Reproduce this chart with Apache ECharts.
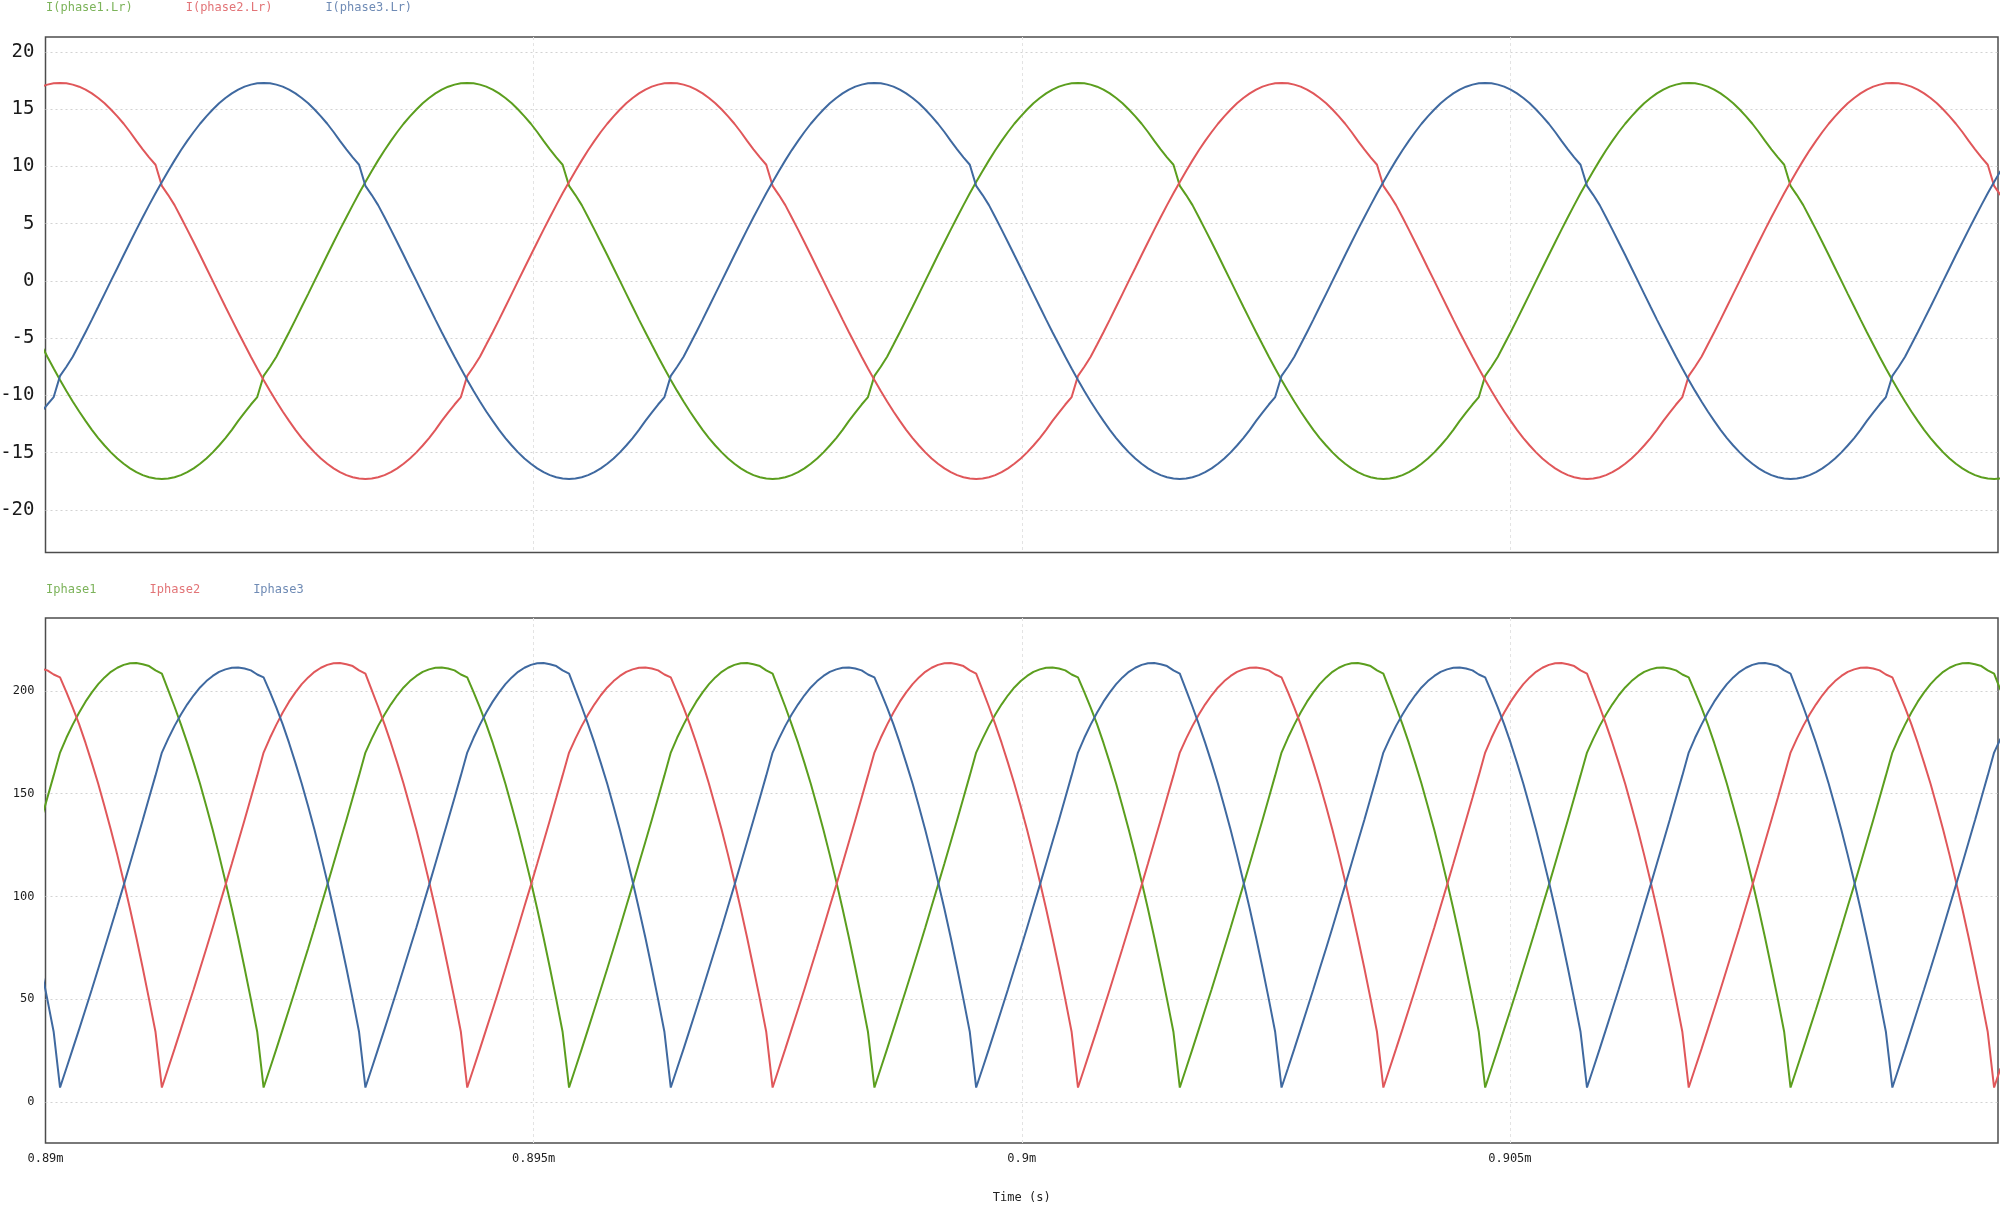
<!DOCTYPE html>
<html><head><meta charset="utf-8">
<script src="https://cdn.jsdelivr.net/npm/echarts@6/dist/echarts.min.js"></script>
<style>html,body{margin:0;padding:0;background:#fff}#c{width:2000px;height:1206px}</style>
</head><body><div id="c"></div>
<script>
// time in microseconds (axis shows milliseconds with "m")
const timeUs = [
889.954, 890.019, 890.084,
890.149, 890.214, 890.279, 890.345, 890.410, 890.475, 890.540, 890.605, 890.670, 890.736, 890.801, 890.866, 890.931, 890.996, 891.061, 891.127,
891.192, 891.257, 891.322, 891.387, 891.452, 891.518, 891.583, 891.648, 891.713, 891.778, 891.843, 891.909, 891.974, 892.039, 892.104, 892.169,
892.234, 892.300, 892.365, 892.430, 892.495, 892.560, 892.625, 892.691, 892.756, 892.821, 892.886, 892.951, 893.016, 893.082, 893.147, 893.212,
893.277, 893.342, 893.407, 893.473, 893.538, 893.603, 893.668, 893.733, 893.799, 893.864, 893.929, 893.994, 894.059, 894.124, 894.190, 894.255,
894.320, 894.385, 894.450, 894.515, 894.581, 894.646, 894.711, 894.776, 894.841, 894.906, 894.972, 895.037, 895.102, 895.167, 895.232, 895.297,
895.363, 895.428, 895.493, 895.558, 895.623, 895.688, 895.754, 895.819, 895.884, 895.949, 896.014, 896.079, 896.145, 896.210, 896.275, 896.340,
896.405, 896.470, 896.536, 896.601, 896.666, 896.731, 896.796, 896.861, 896.927, 896.992, 897.057, 897.122, 897.187, 897.252, 897.318, 897.383,
897.448, 897.513, 897.578, 897.643, 897.709, 897.774, 897.839, 897.904, 897.969, 898.034, 898.100, 898.165, 898.230, 898.295, 898.360, 898.425,
898.491, 898.556, 898.621, 898.686, 898.751, 898.816, 898.882, 898.947, 899.012, 899.077, 899.142, 899.208, 899.273, 899.338, 899.403, 899.468,
899.533, 899.599, 899.664, 899.729, 899.794, 899.859, 899.924, 899.990, 900.055, 900.120, 900.185, 900.250, 900.315, 900.381, 900.446, 900.511,
900.576, 900.641, 900.706, 900.772, 900.837, 900.902, 900.967, 901.032, 901.097, 901.163, 901.228, 901.293, 901.358, 901.423, 901.488, 901.554,
901.619, 901.684, 901.749, 901.814, 901.879, 901.945, 902.010, 902.075, 902.140, 902.205, 902.270, 902.336, 902.401, 902.466, 902.531, 902.596,
902.661, 902.727, 902.792, 902.857, 902.922, 902.987, 903.052, 903.118, 903.183, 903.248, 903.313, 903.378, 903.443, 903.509, 903.574, 903.639,
903.704, 903.769, 903.834, 903.900, 903.965, 904.030, 904.095, 904.160, 904.226, 904.291, 904.356, 904.421, 904.486, 904.551, 904.617, 904.682,
904.747, 904.812, 904.877, 904.942, 905.008, 905.073, 905.138, 905.203, 905.268, 905.333, 905.399, 905.464, 905.529, 905.594, 905.659, 905.724,
905.790, 905.855, 905.920, 905.985, 906.050, 906.115, 906.181, 906.246, 906.311, 906.376, 906.441, 906.506, 906.572, 906.637, 906.702, 906.767,
906.832, 906.897, 906.963, 907.028, 907.093, 907.158, 907.223, 907.288, 907.354, 907.419, 907.484, 907.549, 907.614, 907.679, 907.745, 907.810,
907.875, 907.940, 908.005, 908.070, 908.136, 908.201, 908.266, 908.331, 908.396, 908.461, 908.527, 908.592, 908.657, 908.722, 908.787, 908.852,
908.918, 908.983, 909.048, 909.113, 909.178, 909.243, 909.309, 909.374, 909.439, 909.504, 909.569, 909.635, 909.700, 909.765, 909.830, 909.895,
909.960, 910.026
];

const topNames = ['I(phase1.Lr)', 'I(phase2.Lr)', 'I(phase3.Lr)'];
const botNames = ['Iphase1', 'Iphase2', 'Iphase3'];
const topYTicks = [-20, -15, -10, -5, 0, 5, 10, 15, 20];
const botYTicks = [0, 50, 100, 150, 200];
const xTicks = [890, 895, 900, 905];

// I(phase1.Lr) - green
const iPhase1Lr = [
-5.56, -6.62, -7.65,
-8.65, -9.61, -10.53, -11.41, -12.23, -13.01, -13.73, -14.38, -14.98, -15.52, -15.98, -16.38, -16.71, -16.97, -17.15, -17.26,
-17.3, -17.26, -17.15, -16.97, -16.71, -16.38, -15.98, -15.52, -14.98, -14.38, -13.73, -13.01, -12.23, -11.5, -10.8, -10.15,
-8.3, -7.5, -6.62, -5.56, -4.48, -3.38, -2.26, -1.13, 0, 1.13, 2.26, 3.38, 4.48, 5.56, 6.62, 7.65,
8.65, 9.61, 10.53, 11.41, 12.23, 13.01, 13.73, 14.38, 14.98, 15.52, 15.98, 16.38, 16.71, 16.97, 17.15, 17.26,
17.3, 17.26, 17.15, 16.97, 16.71, 16.38, 15.98, 15.52, 14.98, 14.38, 13.73, 13.01, 12.23, 11.5, 10.8, 10.15,
8.3, 7.5, 6.62, 5.56, 4.48, 3.38, 2.26, 1.13, 0, -1.13, -2.26, -3.38, -4.48, -5.56, -6.62, -7.65,
-8.65, -9.61, -10.53, -11.41, -12.23, -13.01, -13.73, -14.38, -14.98, -15.52, -15.98, -16.38, -16.71, -16.97, -17.15, -17.26,
-17.3, -17.26, -17.15, -16.97, -16.71, -16.38, -15.98, -15.52, -14.98, -14.38, -13.73, -13.01, -12.23, -11.5, -10.8, -10.15,
-8.3, -7.5, -6.62, -5.56, -4.48, -3.38, -2.26, -1.13, 0, 1.13, 2.26, 3.38, 4.48, 5.56, 6.62, 7.65,
8.65, 9.61, 10.53, 11.41, 12.23, 13.01, 13.73, 14.38, 14.98, 15.52, 15.98, 16.38, 16.71, 16.97, 17.15, 17.26,
17.3, 17.26, 17.15, 16.97, 16.71, 16.38, 15.98, 15.52, 14.98, 14.38, 13.73, 13.01, 12.23, 11.5, 10.8, 10.15,
8.3, 7.5, 6.62, 5.56, 4.48, 3.38, 2.26, 1.13, 0, -1.13, -2.26, -3.38, -4.48, -5.56, -6.62, -7.65,
-8.65, -9.61, -10.53, -11.41, -12.23, -13.01, -13.73, -14.38, -14.98, -15.52, -15.98, -16.38, -16.71, -16.97, -17.15, -17.26,
-17.3, -17.26, -17.15, -16.97, -16.71, -16.38, -15.98, -15.52, -14.98, -14.38, -13.73, -13.01, -12.23, -11.5, -10.8, -10.15,
-8.3, -7.5, -6.62, -5.56, -4.48, -3.38, -2.26, -1.13, 0, 1.13, 2.26, 3.38, 4.48, 5.56, 6.62, 7.65,
8.65, 9.61, 10.53, 11.41, 12.23, 13.01, 13.73, 14.38, 14.98, 15.52, 15.98, 16.38, 16.71, 16.97, 17.15, 17.26,
17.3, 17.26, 17.15, 16.97, 16.71, 16.38, 15.98, 15.52, 14.98, 14.38, 13.73, 13.01, 12.23, 11.5, 10.8, 10.15,
8.3, 7.5, 6.62, 5.56, 4.48, 3.38, 2.26, 1.13, 0, -1.13, -2.26, -3.38, -4.48, -5.56, -6.62, -7.65,
-8.65, -9.61, -10.53, -11.41, -12.23, -13.01, -13.73, -14.38, -14.98, -15.52, -15.98, -16.38, -16.71, -16.97, -17.15, -17.26,
-17.3, -17.26
];

// I(phase2.Lr) - red
const iPhase2Lr = [
16.97, 17.15, 17.26,
17.3, 17.26, 17.15, 16.97, 16.71, 16.38, 15.98, 15.52, 14.98, 14.38, 13.73, 13.01, 12.23, 11.5, 10.8, 10.15,
8.3, 7.5, 6.62, 5.56, 4.48, 3.38, 2.26, 1.13, 0, -1.13, -2.26, -3.38, -4.48, -5.56, -6.62, -7.65,
-8.65, -9.61, -10.53, -11.41, -12.23, -13.01, -13.73, -14.38, -14.98, -15.52, -15.98, -16.38, -16.71, -16.97, -17.15, -17.26,
-17.3, -17.26, -17.15, -16.97, -16.71, -16.38, -15.98, -15.52, -14.98, -14.38, -13.73, -13.01, -12.23, -11.5, -10.8, -10.15,
-8.3, -7.5, -6.62, -5.56, -4.48, -3.38, -2.26, -1.13, 0, 1.13, 2.26, 3.38, 4.48, 5.56, 6.62, 7.65,
8.65, 9.61, 10.53, 11.41, 12.23, 13.01, 13.73, 14.38, 14.98, 15.52, 15.98, 16.38, 16.71, 16.97, 17.15, 17.26,
17.3, 17.26, 17.15, 16.97, 16.71, 16.38, 15.98, 15.52, 14.98, 14.38, 13.73, 13.01, 12.23, 11.5, 10.8, 10.15,
8.3, 7.5, 6.62, 5.56, 4.48, 3.38, 2.26, 1.13, 0, -1.13, -2.26, -3.38, -4.48, -5.56, -6.62, -7.65,
-8.65, -9.61, -10.53, -11.41, -12.23, -13.01, -13.73, -14.38, -14.98, -15.52, -15.98, -16.38, -16.71, -16.97, -17.15, -17.26,
-17.3, -17.26, -17.15, -16.97, -16.71, -16.38, -15.98, -15.52, -14.98, -14.38, -13.73, -13.01, -12.23, -11.5, -10.8, -10.15,
-8.3, -7.5, -6.62, -5.56, -4.48, -3.38, -2.26, -1.13, 0, 1.13, 2.26, 3.38, 4.48, 5.56, 6.62, 7.65,
8.65, 9.61, 10.53, 11.41, 12.23, 13.01, 13.73, 14.38, 14.98, 15.52, 15.98, 16.38, 16.71, 16.97, 17.15, 17.26,
17.3, 17.26, 17.15, 16.97, 16.71, 16.38, 15.98, 15.52, 14.98, 14.38, 13.73, 13.01, 12.23, 11.5, 10.8, 10.15,
8.3, 7.5, 6.62, 5.56, 4.48, 3.38, 2.26, 1.13, 0, -1.13, -2.26, -3.38, -4.48, -5.56, -6.62, -7.65,
-8.65, -9.61, -10.53, -11.41, -12.23, -13.01, -13.73, -14.38, -14.98, -15.52, -15.98, -16.38, -16.71, -16.97, -17.15, -17.26,
-17.3, -17.26, -17.15, -16.97, -16.71, -16.38, -15.98, -15.52, -14.98, -14.38, -13.73, -13.01, -12.23, -11.5, -10.8, -10.15,
-8.3, -7.5, -6.62, -5.56, -4.48, -3.38, -2.26, -1.13, 0, 1.13, 2.26, 3.38, 4.48, 5.56, 6.62, 7.65,
8.65, 9.61, 10.53, 11.41, 12.23, 13.01, 13.73, 14.38, 14.98, 15.52, 15.98, 16.38, 16.71, 16.97, 17.15, 17.26,
17.3, 17.26, 17.15, 16.97, 16.71, 16.38, 15.98, 15.52, 14.98, 14.38, 13.73, 13.01, 12.23, 11.5, 10.8, 10.15,
8.3, 7.5
];

// I(phase3.Lr) - blue
const iPhase3Lr = [
-11.5, -10.8, -10.15,
-8.3, -7.5, -6.62, -5.56, -4.48, -3.38, -2.26, -1.13, 0, 1.13, 2.26, 3.38, 4.48, 5.56, 6.62, 7.65,
8.65, 9.61, 10.53, 11.41, 12.23, 13.01, 13.73, 14.38, 14.98, 15.52, 15.98, 16.38, 16.71, 16.97, 17.15, 17.26,
17.3, 17.26, 17.15, 16.97, 16.71, 16.38, 15.98, 15.52, 14.98, 14.38, 13.73, 13.01, 12.23, 11.5, 10.8, 10.15,
8.3, 7.5, 6.62, 5.56, 4.48, 3.38, 2.26, 1.13, 0, -1.13, -2.26, -3.38, -4.48, -5.56, -6.62, -7.65,
-8.65, -9.61, -10.53, -11.41, -12.23, -13.01, -13.73, -14.38, -14.98, -15.52, -15.98, -16.38, -16.71, -16.97, -17.15, -17.26,
-17.3, -17.26, -17.15, -16.97, -16.71, -16.38, -15.98, -15.52, -14.98, -14.38, -13.73, -13.01, -12.23, -11.5, -10.8, -10.15,
-8.3, -7.5, -6.62, -5.56, -4.48, -3.38, -2.26, -1.13, 0, 1.13, 2.26, 3.38, 4.48, 5.56, 6.62, 7.65,
8.65, 9.61, 10.53, 11.41, 12.23, 13.01, 13.73, 14.38, 14.98, 15.52, 15.98, 16.38, 16.71, 16.97, 17.15, 17.26,
17.3, 17.26, 17.15, 16.97, 16.71, 16.38, 15.98, 15.52, 14.98, 14.38, 13.73, 13.01, 12.23, 11.5, 10.8, 10.15,
8.3, 7.5, 6.62, 5.56, 4.48, 3.38, 2.26, 1.13, 0, -1.13, -2.26, -3.38, -4.48, -5.56, -6.62, -7.65,
-8.65, -9.61, -10.53, -11.41, -12.23, -13.01, -13.73, -14.38, -14.98, -15.52, -15.98, -16.38, -16.71, -16.97, -17.15, -17.26,
-17.3, -17.26, -17.15, -16.97, -16.71, -16.38, -15.98, -15.52, -14.98, -14.38, -13.73, -13.01, -12.23, -11.5, -10.8, -10.15,
-8.3, -7.5, -6.62, -5.56, -4.48, -3.38, -2.26, -1.13, 0, 1.13, 2.26, 3.38, 4.48, 5.56, 6.62, 7.65,
8.65, 9.61, 10.53, 11.41, 12.23, 13.01, 13.73, 14.38, 14.98, 15.52, 15.98, 16.38, 16.71, 16.97, 17.15, 17.26,
17.3, 17.26, 17.15, 16.97, 16.71, 16.38, 15.98, 15.52, 14.98, 14.38, 13.73, 13.01, 12.23, 11.5, 10.8, 10.15,
8.3, 7.5, 6.62, 5.56, 4.48, 3.38, 2.26, 1.13, 0, -1.13, -2.26, -3.38, -4.48, -5.56, -6.62, -7.65,
-8.65, -9.61, -10.53, -11.41, -12.23, -13.01, -13.73, -14.38, -14.98, -15.52, -15.98, -16.38, -16.71, -16.97, -17.15, -17.26,
-17.3, -17.26, -17.15, -16.97, -16.71, -16.38, -15.98, -15.52, -14.98, -14.38, -13.73, -13.01, -12.23, -11.5, -10.8, -10.15,
-8.3, -7.5, -6.62, -5.56, -4.48, -3.38, -2.26, -1.13, 0, 1.13, 2.26, 3.38, 4.48, 5.56, 6.62, 7.65,
8.65, 9.61
];

// Iphase1 - green
const iPhase1 = [
137.2, 148, 158.9,
170, 177.2, 183.6, 189.5, 194.8, 199.3, 203.3, 206.6, 209.3, 211.3, 212.7, 213.5, 213.6, 213, 212.1, 210,
208.4, 200.4, 192.3, 183.7, 174.7, 165, 154.8, 143.8, 132.3, 120.1, 107.3, 93.9, 79.9, 65.2, 49.9, 34,
7, 16.4, 25.8, 35.4, 45.1, 54.8, 64.8, 74.8, 84.9, 95.2, 105.5, 116, 126.6, 137.2, 148, 158.9,
170, 176.8, 183, 188.5, 193.5, 197.9, 201.7, 204.8, 207.3, 209.3, 210.5, 211.3, 211.4, 210.9, 210, 208,
206.6, 199.4, 191.9, 183.7, 174.7, 165, 154.8, 143.8, 132.3, 120.1, 107.3, 93.9, 79.9, 65.2, 49.9, 34,
7, 16.4, 25.8, 35.4, 45.1, 54.8, 64.8, 74.8, 84.9, 95.2, 105.5, 116, 126.6, 137.2, 148, 158.9,
170, 177.2, 183.6, 189.5, 194.8, 199.3, 203.3, 206.6, 209.3, 211.3, 212.7, 213.5, 213.6, 213, 212.1, 210,
208.4, 200.4, 192.3, 183.7, 174.7, 165, 154.8, 143.8, 132.3, 120.1, 107.3, 93.9, 79.9, 65.2, 49.9, 34,
7, 16.4, 25.8, 35.4, 45.1, 54.8, 64.8, 74.8, 84.9, 95.2, 105.5, 116, 126.6, 137.2, 148, 158.9,
170, 176.8, 183, 188.5, 193.5, 197.9, 201.7, 204.8, 207.3, 209.3, 210.5, 211.3, 211.4, 210.9, 210, 208,
206.6, 199.4, 191.9, 183.7, 174.7, 165, 154.8, 143.8, 132.3, 120.1, 107.3, 93.9, 79.9, 65.2, 49.9, 34,
7, 16.4, 25.8, 35.4, 45.1, 54.8, 64.8, 74.8, 84.9, 95.2, 105.5, 116, 126.6, 137.2, 148, 158.9,
170, 177.2, 183.6, 189.5, 194.8, 199.3, 203.3, 206.6, 209.3, 211.3, 212.7, 213.5, 213.6, 213, 212.1, 210,
208.4, 200.4, 192.3, 183.7, 174.7, 165, 154.8, 143.8, 132.3, 120.1, 107.3, 93.9, 79.9, 65.2, 49.9, 34,
7, 16.4, 25.8, 35.4, 45.1, 54.8, 64.8, 74.8, 84.9, 95.2, 105.5, 116, 126.6, 137.2, 148, 158.9,
170, 176.8, 183, 188.5, 193.5, 197.9, 201.7, 204.8, 207.3, 209.3, 210.5, 211.3, 211.4, 210.9, 210, 208,
206.6, 199.4, 191.9, 183.7, 174.7, 165, 154.8, 143.8, 132.3, 120.1, 107.3, 93.9, 79.9, 65.2, 49.9, 34,
7, 16.4, 25.8, 35.4, 45.1, 54.8, 64.8, 74.8, 84.9, 95.2, 105.5, 116, 126.6, 137.2, 148, 158.9,
170, 177.2, 183.6, 189.5, 194.8, 199.3, 203.3, 206.6, 209.3, 211.3, 212.7, 213.5, 213.6, 213, 212.1, 210,
208.4, 200.4
];

// Iphase2 - red
const iPhase2 = [
210.9, 210, 208,
206.6, 199.4, 191.9, 183.7, 174.7, 165, 154.8, 143.8, 132.3, 120.1, 107.3, 93.9, 79.9, 65.2, 49.9, 34,
7, 16.4, 25.8, 35.4, 45.1, 54.8, 64.8, 74.8, 84.9, 95.2, 105.5, 116, 126.6, 137.2, 148, 158.9,
170, 177.2, 183.6, 189.5, 194.8, 199.3, 203.3, 206.6, 209.3, 211.3, 212.7, 213.5, 213.6, 213, 212.1, 210,
208.4, 200.4, 192.3, 183.7, 174.7, 165, 154.8, 143.8, 132.3, 120.1, 107.3, 93.9, 79.9, 65.2, 49.9, 34,
7, 16.4, 25.8, 35.4, 45.1, 54.8, 64.8, 74.8, 84.9, 95.2, 105.5, 116, 126.6, 137.2, 148, 158.9,
170, 176.8, 183, 188.5, 193.5, 197.9, 201.7, 204.8, 207.3, 209.3, 210.5, 211.3, 211.4, 210.9, 210, 208,
206.6, 199.4, 191.9, 183.7, 174.7, 165, 154.8, 143.8, 132.3, 120.1, 107.3, 93.9, 79.9, 65.2, 49.9, 34,
7, 16.4, 25.8, 35.4, 45.1, 54.8, 64.8, 74.8, 84.9, 95.2, 105.5, 116, 126.6, 137.2, 148, 158.9,
170, 177.2, 183.6, 189.5, 194.8, 199.3, 203.3, 206.6, 209.3, 211.3, 212.7, 213.5, 213.6, 213, 212.1, 210,
208.4, 200.4, 192.3, 183.7, 174.7, 165, 154.8, 143.8, 132.3, 120.1, 107.3, 93.9, 79.9, 65.2, 49.9, 34,
7, 16.4, 25.8, 35.4, 45.1, 54.8, 64.8, 74.8, 84.9, 95.2, 105.5, 116, 126.6, 137.2, 148, 158.9,
170, 176.8, 183, 188.5, 193.5, 197.9, 201.7, 204.8, 207.3, 209.3, 210.5, 211.3, 211.4, 210.9, 210, 208,
206.6, 199.4, 191.9, 183.7, 174.7, 165, 154.8, 143.8, 132.3, 120.1, 107.3, 93.9, 79.9, 65.2, 49.9, 34,
7, 16.4, 25.8, 35.4, 45.1, 54.8, 64.8, 74.8, 84.9, 95.2, 105.5, 116, 126.6, 137.2, 148, 158.9,
170, 177.2, 183.6, 189.5, 194.8, 199.3, 203.3, 206.6, 209.3, 211.3, 212.7, 213.5, 213.6, 213, 212.1, 210,
208.4, 200.4, 192.3, 183.7, 174.7, 165, 154.8, 143.8, 132.3, 120.1, 107.3, 93.9, 79.9, 65.2, 49.9, 34,
7, 16.4, 25.8, 35.4, 45.1, 54.8, 64.8, 74.8, 84.9, 95.2, 105.5, 116, 126.6, 137.2, 148, 158.9,
170, 176.8, 183, 188.5, 193.5, 197.9, 201.7, 204.8, 207.3, 209.3, 210.5, 211.3, 211.4, 210.9, 210, 208,
206.6, 199.4, 191.9, 183.7, 174.7, 165, 154.8, 143.8, 132.3, 120.1, 107.3, 93.9, 79.9, 65.2, 49.9, 34,
7, 16.4
];

// Iphase3 - blue
const iPhase3 = [
65.2, 49.9, 34,
7, 16.4, 25.8, 35.4, 45.1, 54.8, 64.8, 74.8, 84.9, 95.2, 105.5, 116, 126.6, 137.2, 148, 158.9,
170, 176.8, 183, 188.5, 193.5, 197.9, 201.7, 204.8, 207.3, 209.3, 210.5, 211.3, 211.4, 210.9, 210, 208,
206.6, 199.4, 191.9, 183.7, 174.7, 165, 154.8, 143.8, 132.3, 120.1, 107.3, 93.9, 79.9, 65.2, 49.9, 34,
7, 16.4, 25.8, 35.4, 45.1, 54.8, 64.8, 74.8, 84.9, 95.2, 105.5, 116, 126.6, 137.2, 148, 158.9,
170, 177.2, 183.6, 189.5, 194.8, 199.3, 203.3, 206.6, 209.3, 211.3, 212.7, 213.5, 213.6, 213, 212.1, 210,
208.4, 200.4, 192.3, 183.7, 174.7, 165, 154.8, 143.8, 132.3, 120.1, 107.3, 93.9, 79.9, 65.2, 49.9, 34,
7, 16.4, 25.8, 35.4, 45.1, 54.8, 64.8, 74.8, 84.9, 95.2, 105.5, 116, 126.6, 137.2, 148, 158.9,
170, 176.8, 183, 188.5, 193.5, 197.9, 201.7, 204.8, 207.3, 209.3, 210.5, 211.3, 211.4, 210.9, 210, 208,
206.6, 199.4, 191.9, 183.7, 174.7, 165, 154.8, 143.8, 132.3, 120.1, 107.3, 93.9, 79.9, 65.2, 49.9, 34,
7, 16.4, 25.8, 35.4, 45.1, 54.8, 64.8, 74.8, 84.9, 95.2, 105.5, 116, 126.6, 137.2, 148, 158.9,
170, 177.2, 183.6, 189.5, 194.8, 199.3, 203.3, 206.6, 209.3, 211.3, 212.7, 213.5, 213.6, 213, 212.1, 210,
208.4, 200.4, 192.3, 183.7, 174.7, 165, 154.8, 143.8, 132.3, 120.1, 107.3, 93.9, 79.9, 65.2, 49.9, 34,
7, 16.4, 25.8, 35.4, 45.1, 54.8, 64.8, 74.8, 84.9, 95.2, 105.5, 116, 126.6, 137.2, 148, 158.9,
170, 176.8, 183, 188.5, 193.5, 197.9, 201.7, 204.8, 207.3, 209.3, 210.5, 211.3, 211.4, 210.9, 210, 208,
206.6, 199.4, 191.9, 183.7, 174.7, 165, 154.8, 143.8, 132.3, 120.1, 107.3, 93.9, 79.9, 65.2, 49.9, 34,
7, 16.4, 25.8, 35.4, 45.1, 54.8, 64.8, 74.8, 84.9, 95.2, 105.5, 116, 126.6, 137.2, 148, 158.9,
170, 177.2, 183.6, 189.5, 194.8, 199.3, 203.3, 206.6, 209.3, 211.3, 212.7, 213.5, 213.6, 213, 212.1, 210,
208.4, 200.4, 192.3, 183.7, 174.7, 165, 154.8, 143.8, 132.3, 120.1, 107.3, 93.9, 79.9, 65.2, 49.9, 34,
7, 16.4, 25.8, 35.4, 45.1, 54.8, 64.8, 74.8, 84.9, 95.2, 105.5, 116, 126.6, 137.2, 148, 158.9,
170, 176.8
];

const GREEN = '#5b9e1e', RED = '#e0575a', BLUE = '#3f69a0';
const GREEN_T = '#7cb35a', RED_T = '#e27477', BLUE_T = '#6f8bb5';
const FONT = 'DejaVu Sans Mono';

function pairs(vals) {
  const n = Math.min(timeUs.length, vals.length);
  const out = [];
  for (let i = 0; i < n; i++) out.push([timeUs[i], vals[i]]);
  return out;
}

function lineSeries(name, vals, color, idx) {
  return {
    type: 'line', name: name, xAxisIndex: idx, yAxisIndex: idx,
    data: pairs(vals), showSymbol: false, symbol: 'none', clip: true, silent: true,
    lineStyle: { width: 2, color: color }, itemStyle: { color: color },
    emphasis: { disabled: true }
  };
}

const xAxisBase = (idx, showLabel) => ({
  type: 'value', gridIndex: idx, min: 890, max: 910, interval: 5,
  axisLine: { show: false }, axisTick: { show: false },
  axisLabel: {
    show: showLabel, showMaxLabel: false, color: '#222', fontFamily: FONT, fontSize: 12, margin: 10,
    formatter: v => (v / 1000) + 'm'
  },
  splitLine: { show: true, showMinLine: false, showMaxLine: false, lineStyle: { color: '#e3e3e3', width: 1, type: [3, 3] } }
});

const gridBase = {
  left: 45.5, right: 2, show: true, borderColor: '#4d4d4d', borderWidth: 1.5,
  backgroundColor: 'transparent', containLabel: false, outerBoundsMode: 'none'
};

const chart = echarts.init(document.getElementById('c'), null, { renderer: 'canvas' });
chart.setOption({
  backgroundColor: '#ffffff',
  animation: false,
  textStyle: { fontFamily: FONT },
  legend: [
    {
      data: [
        { name: topNames[0], textStyle: { color: GREEN_T } },
        { name: topNames[1], textStyle: { color: RED_T } },
        { name: topNames[2], textStyle: { color: BLUE_T } }
      ],
      left: 41, top: 2, padding: 0, icon: 'none', itemWidth: 0, itemHeight: 0, itemGap: 48,
      textStyle: { fontFamily: FONT, fontSize: 12 }, selectedMode: false
    },
    {
      data: [
        { name: botNames[0], textStyle: { color: GREEN_T } },
        { name: botNames[1], textStyle: { color: RED_T } },
        { name: botNames[2], textStyle: { color: BLUE_T } }
      ],
      left: 41, top: 584, padding: 0, icon: 'none', itemWidth: 0, itemHeight: 0, itemGap: 48,
      textStyle: { fontFamily: FONT, fontSize: 12 }, selectedMode: false
    }
  ],
  grid: [
    Object.assign({}, gridBase, { top: 37, height: 515.5 }),
    Object.assign({}, gridBase, { top: 618, height: 525 })
  ],
  xAxis: [
    xAxisBase(0, false),
    Object.assign(xAxisBase(1, true), {
      name: 'Time (s)', nameLocation: 'middle', nameGap: 49,
      nameTextStyle: { color: '#222', fontFamily: FONT, fontSize: 12 }
    })
  ],
  yAxis: [
    {
      type: 'value', gridIndex: 0, min: -23.73, max: 21.31,
      axisLine: { show: false },
      axisTick: { show: false, customValues: topYTicks },
      axisLabel: { customValues: topYTicks, color: '#1a1a1a', fontFamily: FONT, fontSize: 19, margin: 11 },
      splitLine: { show: true, lineStyle: { color: '#d2d2d2', width: 1, type: [2, 3] } }
    },
    {
      type: 'value', gridIndex: 1, min: -20, max: 235.5,
      axisLine: { show: false },
      axisTick: { show: false, customValues: botYTicks },
      axisLabel: { customValues: botYTicks, color: '#1a1a1a', fontFamily: FONT, fontSize: 12, margin: 11 },
      splitLine: { show: true, lineStyle: { color: '#d2d2d2', width: 1, type: [2, 3] } }
    }
  ],
  series: [
    lineSeries(topNames[0], iPhase1Lr, GREEN, 0),
    lineSeries(topNames[1], iPhase2Lr, RED, 0),
    lineSeries(topNames[2], iPhase3Lr, BLUE, 0),
    lineSeries(botNames[0], iPhase1, GREEN, 1),
    lineSeries(botNames[1], iPhase2, RED, 1),
    lineSeries(botNames[2], iPhase3, BLUE, 1)
  ]
});
</script>
</body></html>
